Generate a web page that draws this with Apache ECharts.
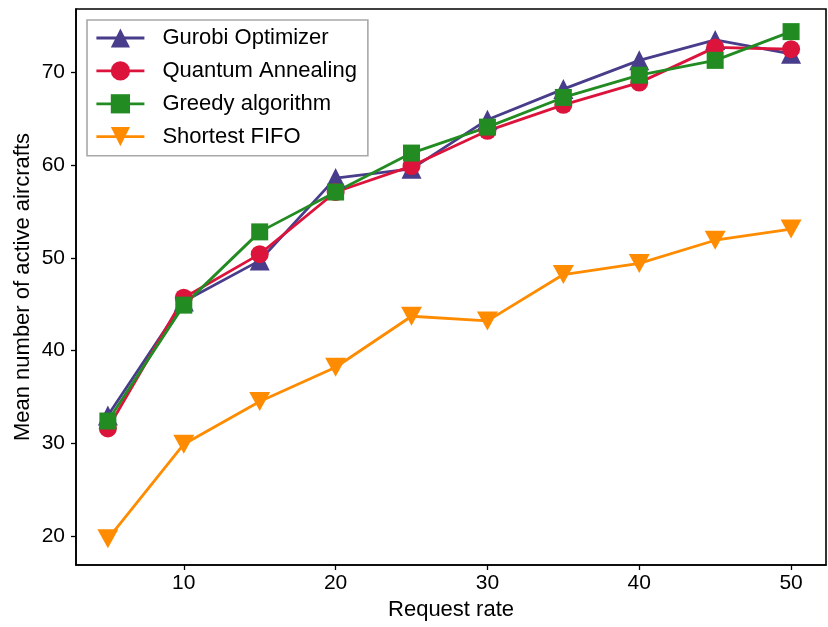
<!DOCTYPE html>
<html>
<head>
<meta charset="utf-8">
<script src="https://cdn.jsdelivr.net/npm/echarts@6/dist/echarts.min.js"></script>
<style>
html,body{margin:0;padding:0;background:#fff;}
#chart{width:828px;height:627px;}
</style>
</head>
<body>
<div id="chart"></div>
<script>
const requestRates = [5, 10, 15, 20, 25, 30, 35, 40, 45, 50];
const gurobi   = [33.0, 45.3, 49.7, 58.6, 59.6, 64.9, 68.2, 71.3, 73.5, 72.0];
const quantum  = [31.6, 45.7, 50.4, 57.1, 59.9, 63.7, 66.5, 68.9, 72.7, 72.5];
const greedy   = [32.4, 44.9, 52.8, 57.1, 61.3, 64.1, 67.3, 69.7, 71.3, 74.4];
const fifo     = [19.7, 29.9, 34.5, 38.2, 43.7, 43.2, 48.2, 49.4, 51.9, 53.1];
const xTicks = [10, 20, 30, 40, 50];
const yTicks = [20, 30, 40, 50, 60, 70];
const seriesNames = ['Gurobi Optimizer', 'Quantum Annealing', 'Greedy algorithm', 'Shortest FIFO'];

const pairs = arr => requestRates.map((x, i) => [x, arr[i]]);
const font = '"Liberation Sans", Arial, sans-serif';
const downTri = 'path://M0,0 L2,0 L1,1.8 Z';

function mk(name, data, color, symbol, size) {
  return {
    name: name, type: 'line', data: pairs(data),
    symbol: symbol, symbolSize: size, showSymbol: true,
    lineStyle: {color: color, width: 2.8},
    itemStyle: {color: color},
    emphasis: {disabled: true}, animation: false
  };
}

const chart = echarts.init(document.getElementById('chart'), null, {renderer: 'canvas'});
chart.setOption({
  backgroundColor: '#fff',
  animation: false,
  grid: {left: 76, right: 2, top: 9, bottom: 62, show: true, borderColor: '#000', borderWidth: 1.6, backgroundColor: 'transparent'},
  legend: {
    orient: 'vertical', left: 87, top: 20,
    data: seriesNames,
    itemWidth: 48, itemHeight: 24, itemGap: 10.9,
    padding: [7, 11, 8, 8],
    borderColor: '#a8a8a8', borderWidth: 1.6, borderRadius: 0,
    backgroundColor: '#fff',
    lineStyle: {width: 2.8},
    textStyle: {fontFamily: font, fontSize: 22, color: '#000', padding: [0, 0, 0, 13]}
  },
  xAxis: {
    type: 'value', min: 2.9, max: 52.3,
    name: 'Request rate', nameLocation: 'middle', nameGap: 29,
    nameTextStyle: {fontFamily: font, fontSize: 22, color: '#000'},
    axisLine: {show: true, onZero: false, lineStyle: {color: '#000', width: 1.6}},
    axisTick: {show: true, length: 5, customValues: xTicks, lineStyle: {color: '#000', width: 1.3}},
    axisLabel: {customValues: xTicks, fontFamily: font, fontSize: 21, color: '#000', margin: 8},
    splitLine: {show: false}
  },
  yAxis: {
    type: 'value', min: 16.87, max: 76.84,
    name: 'Mean number of active aircrafts', nameLocation: 'middle', nameGap: 42,
    nameMoveOverlap: false,
    nameTextStyle: {fontFamily: font, fontSize: 22, color: '#000'},
    axisLine: {show: true, onZero: false, lineStyle: {color: '#000', width: 1.6}},
    axisTick: {show: true, length: 5, customValues: yTicks, lineStyle: {color: '#000', width: 1.3}},
    axisLabel: {customValues: yTicks, fontFamily: font, fontSize: 21, color: '#000', margin: 11},
    splitLine: {show: false}
  },
  series: [
    mk(seriesNames[0], gurobi, '#483D8B', 'triangle', 20),
    mk(seriesNames[1], quantum, '#DC143C', 'circle', 18),
    mk(seriesNames[2], greedy, '#228B22', 'rect', 17),
    mk(seriesNames[3], fifo, '#FF8C00', downTri, [21, 19])
  ]
});
</script>
</body>
</html>
